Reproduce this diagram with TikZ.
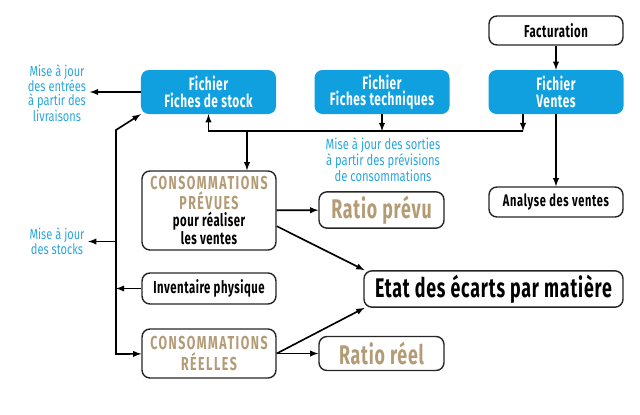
\documentclass[tikz,border=0pt]{standalone}
\usepackage{fontspec}
\setmainfont{Fira Sans}[FakeStretch=0.66]
\newfontfamily\majfont{Fira Sans}[FakeStretch=0.76]
\usetikzlibrary{positioning,arrows}
\definecolor{fichblue}{HTML}{10A0E0}
\definecolor{majblue}{HTML}{2AA6DC}
\definecolor{consotan}{HTML}{B39B76}
\newcommand{\conso}[1]{\textcolor{consotan}{\fontsize{16}{15}\selectfont\addfontfeature{LetterSpace=8}#1}}
\tikzset{
fichier/.style={draw=none, fill=fichblue, text=white, rounded corners=0.24cm,
    minimum width=4.05cm, minimum height=1.32cm, align=center,
    font=\bfseries\fontsize{15.3}{14}\selectfont\addfontfeature{LetterSpace=3}},
boite/.style={draw=black!85, line width=1.2pt, fill=white, rounded corners=0.24cm,
    minimum width=4.02cm, align=center,
    font=\bfseries\fontsize{14.7}{15}\selectfont\addfontfeature{LetterSpace=3}},
grand/.style={boite, minimum height=1.02cm,
    font=\bfseries\fontsize{23}{24}\selectfont\addfontfeature{LetterSpace=3}},
maj/.style={text=majblue, align=center, inner sep=0pt,
    font=\majfont\fontsize{12.4}{11.8}\selectfont},
lien/.style={->, line width=1.4pt}
}

\begin{document}
\begin{tikzpicture}[>=latex, x=0.03cm, y=-0.03cm]
\useasboundingbox (0,0) rectangle (640,414);

% fichiers
\node[boite, minimum height=0.87cm] (factu) at (556,30.5) {Facturation};
\node[fichier] (stock) at (208.5,92) {Fichier\\Fiches de stock};
\node[fichier] (tech) at (382,92) {Fichier\\Fiches techniques};
\node[fichier] (ventes) at (556,92) {Fichier\\Ventes};

% consommations
\node[boite, minimum height=2.37cm] (prev) at (209,210.5)
    {\conso{CONSOMMATIONS}\\\conso{PRÉVUES}\\pour réaliser\\les ventes};
\node[boite, minimum height=0.93cm] (inv) at (209,288.5) {Inventaire physique};
\node[boite, minimum height=1.47cm] (reel) at (209,353.5)
    {\conso{CONSOMMATIONS}\\[1pt]\conso{RÉELLES}};

% ratios et etats
\node[grand, minimum width=3.75cm, text=consotan] (rprev) at (381.5,210) {Ratio prévu};
\node[grand, minimum width=3.75cm, text=consotan] (rreel) at (381.5,353.5) {Ratio réel};
\node[grand, minimum width=7.77cm] (etat) at (493.5,289) {Etat des écarts par matière};
\node[boite, minimum height=0.9cm,
    font=\bfseries\fontsize{14.3}{14}\selectfont\addfontfeature{LetterSpace=4}] (analyse) at (556,202) {Analyse des ventes};

% mises a jour
\node[maj] (majent) at (57,93) {Mise à jour\\des entrées\\à partir des\\livraisons};
\node[maj, font=\majfont\fontsize{12.6}{12.3}\selectfont] (majsort) at (383,160)
    {Mise à jour des sorties\\à partir des prévisions\\de consommations};
\node[maj] (majstk) at (57,241.5) {Mise à jour\\des stocks};

\coordinate (barre) at (523,131);
\coordinate (emb) at (247,131);
\coordinate (haut) at (116,130);
\coordinate (bas) at (116,354);
\coordinate (mstk) at (116,241.5);
\coordinate (minv) at (116,288.5);

\draw[lien] (factu) -- (ventes);
\draw[lien] (ventes) -- (analyse);
\draw[lien] (stock) -- ([xshift=3pt]majent.east |- stock);
\draw[lien] (tech) -- (tech |- barre);
\draw[lien] (ventes.south -| barre) -- (barre);
\draw[lien] (barre) -- (stock |- barre) -- (stock);
\draw[lien] (emb) -- (prev.north -| emb);

\draw[<->, line width=1.4pt] (stock.south west) -- (haut) -- (bas) -- (reel);
\draw[lien] (mstk) -- ([xshift=3pt]majstk.east);
\draw[lien] (inv) -- (minv);

\draw[lien] (prev) -- (rprev);
\draw[lien] ([yshift=-0.47cm]prev.east) -- ([xshift=1pt]etat.north west);
\draw[lien] (reel) -- (rreel);
\draw[lien] (reel.east) -- ([xshift=1pt]etat.south west);
\end{tikzpicture}
\end{document}
